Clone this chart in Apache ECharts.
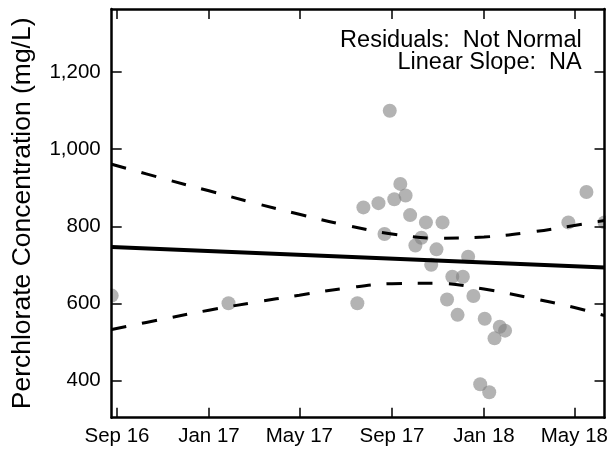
<!DOCTYPE html>
<html><head><meta charset="utf-8">
<script src="https://cdn.jsdelivr.net/npm/echarts@6/dist/echarts.min.js"></script>
<style>html,body{margin:0;padding:0;background:#fff}#c{width:611px;height:452px}</style>
</head><body><div id="c"></div>
<script>
// ---- data ----
const sampleDates = ['2016-08-25','2017-01-27','2017-07-17','2017-07-25','2017-08-14','2017-08-22','2017-08-29','2017-09-04','2017-09-12','2017-09-19','2017-09-25','2017-10-02','2017-10-10','2017-10-16','2017-10-23','2017-10-30','2017-11-07','2017-11-13','2017-11-20','2017-11-27','2017-12-04','2017-12-11','2017-12-18','2017-12-27','2018-01-02','2018-01-08','2018-01-15','2018-01-22','2018-01-29','2018-04-23','2018-05-17','2018-06-10'];
const concentrations = [620,600,600,849,860,780,1100,870,910,880,829,750,770,810,700,740,810,610,669,570,669,721,619,390,560,369,509,539,529,810,889,810];
const trendDates = ['2016-08-25','2018-06-10'];
const trendValues = [746,693];
const bandDates = ['2016-08-25','2016-11-01','2017-01-01','2017-03-01','2017-05-01','2017-07-01','2017-09-01','2017-11-01','2018-01-01','2018-03-01','2018-05-01','2018-06-10'];
const upperBand = [961,924,892,861,831,803,780,769,772,784,802,815];
const lowerBand = [532,559,582,602,621,639,651,652,637,615,589,568];
const xTickDates = ['2016-09-01','2017-01-01','2017-05-01','2017-09-01','2018-01-01','2018-05-01'];
const xTickLabels = ['Sep 16','Jan 17','May 17','Sep 17','Jan 18','May 18'];
const yTickValues = [400,600,800,1000,1200];
const yTickLabels = ['400','600','800','1,000','1,200'];
const xRange = ['2016-08-25','2018-06-10'];
const yRange = [303,1364];
const yTitle = 'Perchlorate Concentration (mg/L)';
const notes = ['Residuals:  Not Normal','Linear Slope:  NA'];

// ---- build ----
function ts(s){const p=s.split('-');return Date.UTC(+p[0],+p[1]-1,+p[2]);}
const xTickTs = xTickDates.map(ts);
const pair = (ds, vs) => ds.map((d,i)=>[ts(d), vs[i]]);
const font = '"Liberation Sans", Arial, Helvetica, sans-serif';

const G = {left:111.7, top:9, right:6, bottom:34.3};
const chart = echarts.init(document.getElementById('c'), null, {renderer:'canvas'});

function xAx(pos, showLabel){
  return {type:'value', position:pos, min:ts(xRange[0]), max:ts(xRange[1]), z:10, scale:true,
    axisLine:{show:true, onZero:false, lineStyle:{color:'#000', width:2.5}},
    axisTick:{show:true, inside:true, length:10, lineStyle:{color:'#000', width:1.5}, customValues:xTickTs},
    axisLabel:{show:showLabel, customValues:xTickTs, margin:8, color:'#000', fontSize:20.5, fontFamily:font,
      formatter:(v)=>{const i=xTickTs.indexOf(v);return i>=0?xTickLabels[i]:'';}},
    splitLine:{show:false}};
}
function yAx(pos, showLabel){
  return {type:'value', position:pos, min:yRange[0], max:yRange[1], z:10,
    name: showLabel? yTitle : '', nameLocation:'middle', nameGap:76,
    nameTextStyle:{fontSize:26.5, color:'#000', fontFamily:font},
    axisLine:{show:true, onZero:false, lineStyle:{color:'#000', width:2.5}},
    axisTick:{show:true, inside:true, length:10, lineStyle:{color:'#000', width:1.5}, customValues:yTickValues},
    axisLabel:{show:showLabel, customValues:yTickValues, margin:11, color:'#000', fontSize:20.5, fontFamily:font,
      formatter:(v)=>{const i=yTickValues.indexOf(v);return i>=0?yTickLabels[i]:'';}},
    splitLine:{show:false}};
}

chart.setOption({
  animation:false,
  backgroundColor:'#fff',
  grid:G,
  xAxis:[xAx('bottom',true), xAx('top',false)],
  yAxis:[yAx('left',true), yAx('right',false)],
  graphic:[
    {type:'rect', z:5, shape:{x:96, y:0, width:14.5, height:452}, style:{fill:'#fff'}},
    {type:'rect', z:5, shape:{x:606, y:0, width:10, height:452}, style:{fill:'#fff'}},
    {type:'text', z:20, right:29.3, top:29, style:{text:notes[0], fontSize:23.5, fontFamily:font, fill:'#000', align:'right'}},
    {type:'text', z:20, right:29.3, top:50.5, style:{text:notes[1], fontSize:23.5, fontFamily:font, fill:'#000', align:'right'}}
  ],
  series:[
    {type:'scatter', clip:false, z:2, data:pair(sampleDates, concentrations), symbol:'circle', symbolSize:14,
      itemStyle:{color:'rgba(128,128,128,0.75)'}},
    {type:'line', z:3, clip:true, data:pair(trendDates, trendValues), showSymbol:false, symbol:'none',
      lineStyle:{color:'#000', width:4}},
    {type:'line', z:3, clip:true, data:pair(bandDates, upperBand), smooth:0.4, showSymbol:false, symbol:'none',
      lineStyle:{color:'#000', width:3, type:[15,16]}},
    {type:'line', z:3, clip:true, data:pair(bandDates, lowerBand), smooth:0.4, showSymbol:false, symbol:'none',
      lineStyle:{color:'#000', width:3, type:[15,16]}}
  ]
});
</script></body></html>
